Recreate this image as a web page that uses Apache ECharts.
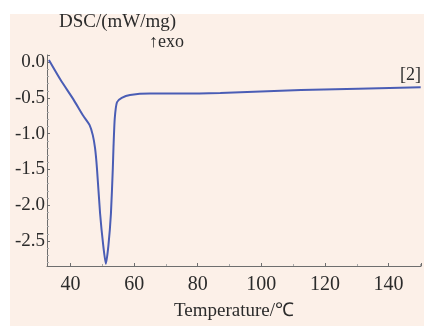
<!DOCTYPE html>
<html><head><meta charset="utf-8">
<script src="https://cdn.jsdelivr.net/npm/echarts@6/dist/echarts.min.js"></script>
<style>html,body{margin:0;padding:0;background:#fff}#c{width:424px;height:326px}</style>
</head><body><div id="c"></div>
<script>
// Temperature (°C) and DSC heat flow (mW/mg)
const temperature = [33.2, 36.9, 40.9, 44.0, 46.0, 47.0, 47.7, 48.3, 49.3, 50.3, 51.1, 51.9, 52.7, 53.3, 53.5, 53.9, 54.6, 56.1, 58.7, 65.0, 75.4, 87.1, 112.5, 150.1];
const dscValues   = [0.03, -0.25, -0.52, -0.75, -0.88, -1.02, -1.20, -1.48, -2.12, -2.57, -2.82, -2.57, -2.12, -1.48, -1.20, -0.79, -0.56, -0.50, -0.46, -0.44, -0.44, -0.43, -0.39, -0.35];
const xTicks = [40, 60, 80, 100, 120, 140];
const yTicks = [0.0, -0.5, -1.0, -1.5, -2.0, -2.5];
const yTitle = 'DSC/(mW/mg)';
const xTitle = 'Temperature/℃';
const exoNote = '↑exo';
const seriesLabel = '[2]';

const font = 'Liberation Serif';
const txt = '#2b2b2b';
const axisCol = '#6e6e6e';
const data = temperature.map((t, i) => [t, dscValues[i]]);

const chart = echarts.init(document.getElementById('c'), null, {renderer: 'canvas'});
chart.setOption({
  backgroundColor: '#ffffff',
  animation: false,
  graphic: [
    {type: 'rect', z: -10, shape: {x: 10, y: 14, width: 414, height: 312}, style: {fill: '#fcf0e8'}},
    {type: 'text', left: 59, top: 13, style: {text: yTitle, font: '19px "Liberation Serif"', fill: txt}},
    {type: 'text', left: 149, top: 33, style: {text: exoNote, font: '18px "Liberation Serif"', fill: txt}},
    {type: 'text', left: 400, top: 66, style: {text: seriesLabel, font: '18px "Liberation Serif"', fill: txt}}
  ],
  grid: {left: 47, right: 3, top: 55, bottom: 55, containLabel: false},
  xAxis: {
    type: 'value', min: 32.6, max: 150.2, splitNumber: 5,
    name: xTitle, nameLocation: 'middle', nameGap: 36,
    nameTextStyle: {fontFamily: font, fontSize: 19, color: txt},
    axisLine: {show: true, onZero: false, lineStyle: {color: axisCol, width: 1}},
    axisTick: {show: true, inside: true, length: 3, lineStyle: {color: axisCol}},
    minorTick: {show: true, splitNumber: 2, length: 2, lineStyle: {color: '#aaa'}},
    splitLine: {show: false},
    axisLabel: {
      fontFamily: font, fontSize: 20, color: txt, margin: 9,
      showMinLabel: false, showMaxLabel: false,
      formatter: v => xTicks.includes(Math.round(v)) && Math.abs(v - Math.round(v)) < 1e-6 ? String(Math.round(v)) : ''
    }
  },
  yAxis: {
    type: 'value', min: -2.85, max: 0.1, splitNumber: 6,
    axisLine: {show: true, onZero: false, lineStyle: {color: axisCol, width: 1}},
    axisTick: {show: true, inside: true, length: 3, lineStyle: {color: axisCol}},
    minorTick: {show: true, splitNumber: 5, length: 2, lineStyle: {color: '#aaa'}},
    splitLine: {show: false},
    axisLabel: {
      fontFamily: font, fontSize: 19, color: txt, margin: 2,
      showMinLabel: false, showMaxLabel: false,
      formatter: v => {
        const t = yTicks.find(y => Math.abs(y - v) < 1e-6);
        return t === undefined ? '' : t.toFixed(1);
      }
    }
  },
  series: [{
    type: 'line', data: data, showSymbol: false, smooth: 0.2,
    lineStyle: {color: '#4a5db5', width: 2},
    clip: false
  }]
});
</script></body></html>
